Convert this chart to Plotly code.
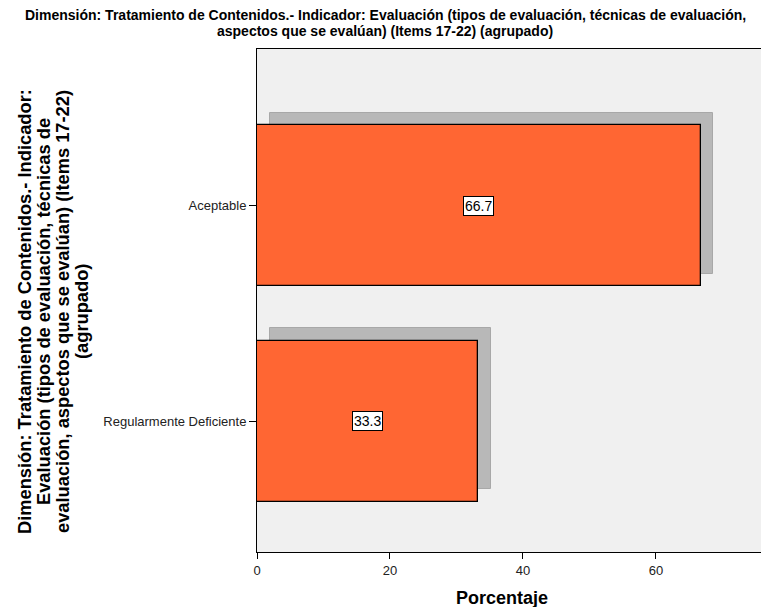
import plotly.graph_objects as go

# ---- data ----
categories = ["Aceptable", "Regularmente Deficiente"]
percentages = [66.7, 33.3]
cat_positions = [1, 0]
x_tick_values = [0, 20, 40, 60]
x_tick_labels = ["0", "20", "40", "60"]

title_lines = [
    "Dimensión: Tratamiento de Contenidos.- Indicador: Evaluación (tipos de evaluación, técnicas de evaluación,",
    "aspectos que se evalúan) (Items 17-22) (agrupado)",
]
y_title_lines = [
    "Dimensión: Tratamiento de Contenidos.- Indicador:",
    "Evaluación (tipos de evaluación, técnicas de",
    "evaluación, aspectos que se evalúan) (Items 17-22)",
    "(agrupado)",
]
x_title_text = "Porcentaje"

# ---- style ----
BAR_W = 0.746
SHADOW_DX = 1.88      # in x units
SHADOW_DY = 0.058     # in category units
BAR_COLOR = "#FF6633"
SHADOW_COLOR = "#B8B8B8"
BG = "#F0F0F0"
FONT = "Liberation Sans, Arial"

# page has an 8px body margin; figure is drawn at (8, 8)
OFF = 8
W, H = 769 - OFF, 607 - OFF
L, R, T, B = 257 - OFF, 0, 49 - OFF, 55
pw, ph = W - L - R, H - T - B


def px(xp):  # page x -> paper x
    return (xp - OFF - L) / pw


def py(yp):  # page y -> paper y
    return (H - B - (yp - OFF)) / ph


fig = go.Figure()

# shadow
fig.add_trace(go.Bar(
    y=cat_positions, x=percentages, base=[SHADOW_DX] * len(percentages),
    orientation="h", width=BAR_W, offset=-BAR_W / 2 + SHADOW_DY,
    marker=dict(color=SHADOW_COLOR, line=dict(color="#A8A8A8", width=1)),
    hoverinfo="skip", showlegend=False,
))
# main bars
fig.add_trace(go.Bar(
    y=cat_positions, x=percentages, orientation="h", width=BAR_W,
    offset=-BAR_W / 2,
    marker=dict(color=BAR_COLOR, line=dict(color="#000000", width=1.3)),
    showlegend=False,
))

annotations = []
for pos, val in zip(cat_positions, percentages):
    annotations.append(dict(
        x=val / 2, y=pos, xref="x", yref="y", text=f"{val:.1f}", showarrow=False,
        font=dict(family=FONT, size=14, color="#000"),
        bgcolor="white", bordercolor="#000", borderwidth=1, borderpad=1,
    ))

for i, line in enumerate(title_lines):
    annotations.append(dict(
        x=px(385), y=py(15 + 16 * i), xref="paper", yref="paper",
        text="<b>" + line + "</b>", showarrow=False,
        xanchor="center", yanchor="middle",
        font=dict(family=FONT, size=14, color="#000"),
    ))

for i, line in enumerate(y_title_lines):
    annotations.append(dict(
        x=px(24 + 19 * i), y=py(312), xref="paper", yref="paper",
        text="<b>" + line + "</b>", showarrow=False, textangle=-90,
        xanchor="center", yanchor="middle",
        font=dict(family=FONT, size=18.3, color="#000"),
    ))

annotations.append(dict(
    x=px(502), y=py(598), xref="paper", yref="paper",
    text="<b>" + x_title_text + "</b>", showarrow=False,
    xanchor="center", yanchor="middle",
    font=dict(family=FONT, size=18, color="#000"),
))

fig.update_layout(
    width=W, height=H,
    margin=dict(l=L, r=R, t=T, b=B, pad=0),
    paper_bgcolor="white", plot_bgcolor=BG,
    bargap=0, barmode="overlay",
    annotations=annotations,
    xaxis=dict(
        range=[0, 77], tickvals=x_tick_values, ticktext=x_tick_labels,
        ticks="outside", ticklen=6, tickcolor="#000", tickwidth=1,
        showline=True, linecolor="#000", linewidth=1, mirror=True,
        showgrid=False, zeroline=False,
        tickfont=dict(family=FONT, size=13, color="#222"),
    ),
    yaxis=dict(
        range=[-0.606, 1.726], tickvals=cat_positions, ticktext=categories,
        ticks="outside", ticklen=7, tickcolor="#000", tickwidth=1,
        showline=True, linecolor="#000", linewidth=1,
        showgrid=False, zeroline=False,
        tickfont=dict(family=FONT, size=13, color="#222"),
    ),
    showlegend=False,
)

fig.write_html("out.html")
